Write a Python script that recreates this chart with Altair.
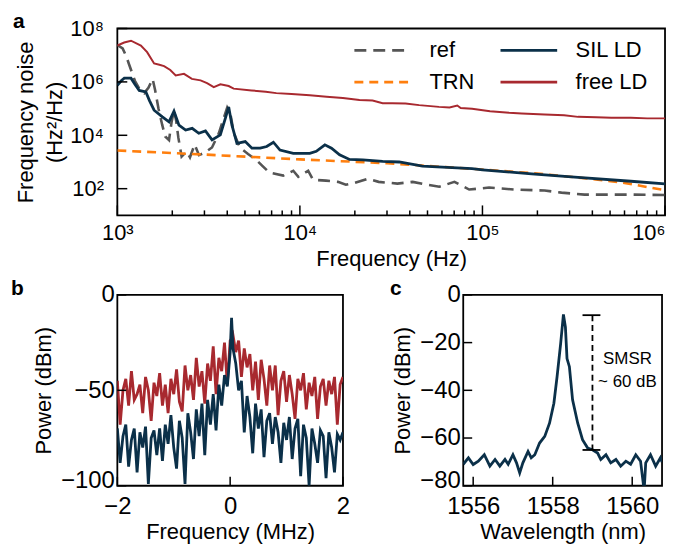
import altair as alt
import pandas as pd

FONT = "Liberation Sans"
SUP = "['\u2070','\u00b9','\u00b2','\u00b3','\u2074','\u2075','\u2076','\u2077','\u2078','\u2079']"
LOG_LABEL = "'10' + " + SUP + "[round(log(datum.value)/LN10)]"

# ---------------- panel a : frequency noise ----------------
free_f = [1000, 1090, 1188, 1346, 1456, 1590, 1700, 1803, 1950, 2088, 2318, 2560, 2857, 3100,
          3375, 3670, 4074, 4335, 5433, 6500, 7430, 9000, 11330, 14000, 17200, 21200, 25000,
          28400, 32000, 37900, 45000, 57800, 66000, 72800, 76000, 87700, 110000, 140000,
          164000, 219000, 280000, 334000, 420000, 508000, 650000, 800000, 1000000]
free_v = [2.3e7, 3.0e7, 3.5e7, 2.3e7, 1.3e7, 4.9e6, 4.4e6, 3.9e6, 2.8e6, 1.75e6, 2.0e6, 1.3e6,
          1.14e6, 9.0e5, 6.4e5, 8.1e5, 7.0e5, 5.6e5, 4.8e5, 4.3e5, 3.8e5, 3.5e5, 3.15e5, 2.8e5,
          2.5e5, 2.1e5, 2.0e5, 1.6e5, 1.6e5, 1.55e5, 1.35e5, 1.16e5, 1.1e5, 1.3e5, 1.05e5,
          9.8e4, 8.0e4, 7.0e4, 6.6e4, 6.0e4, 5.6e4, 4.9e4, 4.7e4, 4.5e4, 4.5e4, 4.3e4, 4.3e4]

sil_f = [1000, 1050, 1092, 1188, 1250, 1318, 1433, 1500, 1590, 1765, 1919, 2043, 2175, 2366,
         2570, 2794, 3039, 3302, 3666, 3905, 4074, 4244, 4520, 5020, 5460, 6060, 6580, 7160,
         7780, 9200, 11330, 12300, 13700, 14900, 16500, 18700, 22100, 28400, 35000, 46900,
         87700, 100000, 186000, 334000, 650000, 1000000]
sil_v = [7.5e5, 1.1e6, 1.38e6, 1.38e6, 8.0e5, 4.8e5, 4.2e5, 2.0e5, 8.7e4, 4.9e4, 3.2e4, 8.0e4,
         2.4e4, 1.57e4, 1.82e4, 1.19e4, 1.45e4, 6.7e3, 1.03e4, 4.3e4, 1.16e5, 2.4e4, 5.0e3,
         5.8e3, 3.3e3, 3.3e3, 3.8e3, 5.5e3, 2.8e3, 2.1e3, 2.1e3, 2.5e3, 4.4e3, 3.3e3, 1.85e3,
         1.25e3, 1.2e3, 1.05e3, 1.0e3, 7.0e2, 5.6e2, 5.1e2, 3.6e2, 2.65e2, 1.9e2, 1.5e2]

ref_f = [1000, 1069, 1120, 1160, 1248, 1330, 1403, 1480, 1560, 1610, 1680, 1760, 1830, 1919,
         1980, 2043, 2100, 2160, 2250, 2400, 2500, 2650, 2800, 3000, 3300, 3600, 3850, 4000,
         4150, 4350, 4700, 5200, 5770, 6310, 6810, 8100, 9200, 9800, 11100, 11800, 13900,
         16150, 17850, 20000, 23500, 27000, 34200, 41500, 49900, 58000, 70200, 84600, 108700,
         149000, 219000, 271000, 362000, 636000, 1000000]
ref_v = [2.4e7, 1.8e7, 9.0e6, 4.5e6, 1.1e6, 5.0e5, 3.8e5, 6.0e5, 1.3e6, 5.0e5, 1.0e5, 2.5e4,
         9.0e3, 6.6e3, 3.0e4, 8.7e4, 3.5e4, 8.0e3, 1.6e3, 2.5e3, 1.5e3, 4.5e3, 1.8e3, 2.2e3,
         3.5e3, 1.2e4, 5.0e4, 1.1e5, 7.0e4, 1.2e4, 3.4e3, 2.0e3, 1.2e3, 6.6e2, 4.0e2, 3.1e2,
         4.7e2, 2.8e2, 4.7e2, 2.15e2, 2.0e2, 1.8e2, 1.4e2, 1.65e2, 2.35e2, 1.8e2, 1.55e2,
         1.8e2, 1.4e2, 1.18e2, 1.8e2, 93, 110, 93, 85, 71, 60, 60, 58]

trn_f = [1000, 3000, 10000, 30000, 100000, 200000, 400000, 600000, 800000, 1000000]
trn_v = [2.7e3, 1.9e3, 1.25e3, 9.0e2, 5.2e2, 3.7e2, 2.3e2, 1.65e2, 1.15e2, 88]

dashed_names = ["ref", "TRN"]
dashed_colors = ["#555555", "#ff7f0e"]
dashed_patterns = [[12, 7], [9, 6]]
solid_names = ["SIL LD", "free LD"]
solid_colors = ["#0b3049", "#a8292f"]

a_xmajor = [1e3, 1e4, 1e5, 1e6]
a_xminor = [2e3, 3e3, 4e3, 5e3, 6e3, 7e3, 8e3, 9e3, 2e4, 3e4, 4e4, 5e4, 6e4, 7e4, 8e4, 9e4,
            2e5, 3e5, 4e5, 5e5, 6e5, 7e5, 8e5, 9e5]
a_ymajor = [1e2, 1e4, 1e6, 1e8]

# ---------------- panel b : beat note ----------------
b_freq = [-2.0, -1.95, -1.9, -1.85, -1.8, -1.75, -1.7, -1.65, -1.6, -1.55, -1.5, -1.45, -1.4,
          -1.35, -1.3, -1.25, -1.2, -1.15, -1.1, -1.05, -1.0, -0.95, -0.9, -0.85, -0.8, -0.75,
          -0.7, -0.65, -0.6, -0.55, -0.5, -0.45, -0.4, -0.35, -0.3, -0.25, -0.2, -0.15, -0.1,
          -0.05, 0.0, 0.025, 0.05, 0.1, 0.15, 0.2, 0.25, 0.3, 0.35, 0.4, 0.45, 0.5, 0.55, 0.6,
          0.65, 0.7, 0.75, 0.8, 0.85, 0.9, 0.95, 1.0, 1.05, 1.1, 1.15, 1.2, 1.25, 1.3, 1.35,
          1.4, 1.45, 1.5, 1.55, 1.6, 1.65, 1.7, 1.75, 1.8, 1.85, 1.9, 1.95, 2.0]
b_free = [-45, -68, -50, -44, -58, -40, -55, -52, -47, -62, -43, -50, -66, -46, -53, -41, -58,
          -47, -62, -44, -52, -39, -56, -61, -37, -50, -42, -55, -33, -48, -40, -57, -36, -45,
          -27, -52, -33, -40, -25, -47, -24, -23, -21, -30, -24, -43, -28, -38, -31, -50, -35,
          -55, -34, -44, -58, -37, -50, -37, -63, -45, -40, -56, -42, -52, -65, -44, -50, -41,
          -60, -46, -53, -43, -65, -48, -44, -58, -45, -52, -43, -68, -47, -43]
b_sil = [-70, -88, -74, -68, -90, -76, -70, -93, -72, -80, -69, -99, -75, -71, -84, -70, -87,
         -68, -78, -63, -80, -91, -66, -75, -99, -62, -72, -86, -60, -74, -57, -84, -55, -68,
         -52, -71, -47, -58, -42, -48, -30, -12, -28, -36, -50, -45, -72, -53, -64, -83, -57,
         -70, -60, -85, -66, -62, -78, -64, -72, -88, -67, -76, -64, -86, -70, -65, -95, -68,
         -75, -100, -70, -78, -88, -71, -74, -96, -72, -80, -93, -73, -76, -72]
b_xticks = [-2, 0, 2]
b_yticks = [-100, -50, 0]

# ---------------- panel c : optical spectrum ----------------
c_wl = [1555.75, 1555.88, 1556.0, 1556.13, 1556.28, 1556.42, 1556.55, 1556.67, 1556.8, 1556.88,
        1557.0, 1557.09, 1557.17, 1557.25, 1557.38, 1557.46, 1557.55, 1557.67, 1557.8, 1557.92,
        1558.03, 1558.11, 1558.2, 1558.27, 1558.32, 1558.36, 1558.42, 1558.5, 1558.63, 1558.75,
        1558.88, 1559.0, 1559.13, 1559.21, 1559.34, 1559.46, 1559.59, 1559.71, 1559.84, 1559.96,
        1560.09, 1560.21, 1560.3, 1560.34, 1560.46, 1560.59, 1560.71, 1560.75]
c_pw = [-71, -68.3, -71.1, -69.7, -67, -71.8, -69, -71.8, -69, -71, -67, -70.4, -74.6, -70.4,
        -65.6, -68.3, -67, -62.1, -59.3, -53.8, -45.4, -34.3, -20.4, -8.2, -13.5, -26.7, -30.1,
        -44, -53.8, -60.7, -64.2, -64.9, -66.3, -69, -67, -70.4, -69, -71.8, -69.7, -71, -67,
        -69.7, -82, -70.4, -67, -71.8, -68.3, -70]
c_xticks = [1556, 1558, 1560]
c_yticks = [-80, -60, -40, -20, 0]
smsr_x = [1559.0]
smsr_top = [-8.5]
smsr_bottom = [-65.0]
smsr_cap_x1 = [1558.75, 1558.75]
smsr_cap_x2 = [1559.2, 1559.2]
smsr_cap_y = [-8.5, -65.0]
smsr_text = ["SMSR", "~ 60 dB"]
smsr_text_x = [1559.88, 1559.88]
smsr_text_y = [-26.7, -36.4]

NAVY = solid_colors[0]
RED = solid_colors[1]
TICK = 9
LABEL_A = 22
LABEL_BC = 24


def x_ticks(vals, scale, axis, h, length=TICK):
    return alt.Chart(pd.DataFrame({"t": vals})).mark_rule(color="black", strokeWidth=1.5).encode(
        x=alt.X("t:Q", scale=scale, axis=axis), y=alt.value(h), y2=alt.value(h - length))


def y_ticks(vals, scale, axis, length=TICK):
    return alt.Chart(pd.DataFrame({"t": vals})).mark_rule(color="black", strokeWidth=1.5).encode(
        y=alt.Y("t:Q", scale=scale, axis=axis), x=alt.value(0), x2=alt.value(length))


def panel_title(letter, dx, offset):
    return alt.TitleParams(letter, anchor="start", frame="bounds", fontSize=21,
                           fontWeight="bold", dx=dx, offset=offset, font=FONT, color="black")


def line_legend(x, y, dash=None):
    kw = dict(title=None, orient="none", legendX=x, legendY=y, direction="vertical",
              symbolType="M-5,0H5", symbolSize=130, symbolStrokeWidth=2.7,
              labelFontSize=22, labelFont=FONT, labelColor="black", labelOffset=36,
              rowPadding=10, padding=0)
    if dash is not None:
        kw["symbolDash"] = dash
    return alt.Legend(**kw)


# ----- build panel a -----
WA, HA = 551, 188
xa = alt.Scale(type="log", domain=[1e3, 1e6])
ya = alt.Scale(type="log", domain=[1e1, 1e8])
xa_axis = alt.Axis(values=a_xmajor, labelExpr=LOG_LABEL, title="Frequency (Hz)",
                   labelPadding=7, titlePadding=5, labelFontSize=LABEL_A,
                   labelAlign={"condition": {"test": "datum.value >= 1000000", "value": "right"},
                               "value": "center"})
ya_axis = alt.Axis(values=a_ymajor, labelExpr=LOG_LABEL, title=["Frequency noise", "(Hz\u00b2/Hz)"],
                   titleLineHeight=29, labelPadding=14, titlePadding=3, labelFontSize=LABEL_A)


def frame(names_data):
    rows = []
    for name, fs, vs in names_data:
        for f, v in zip(fs, vs):
            rows.append({"series": name, "f": f, "v": v})
    return pd.DataFrame(rows)


dashed_layer = alt.Chart(frame([("ref", ref_f, ref_v), ("TRN", trn_f, trn_v)])).mark_line(
    clip=True, strokeWidth=2.6).encode(
    x=alt.X("f:Q", scale=xa, axis=xa_axis),
    y=alt.Y("v:Q", scale=ya, axis=ya_axis),
    stroke=alt.Stroke("series:N", scale=alt.Scale(domain=dashed_names, range=dashed_colors),
                      legend=line_legend(256, 11, [10, 6])),
    strokeDash=alt.StrokeDash("series:N", scale=alt.Scale(domain=dashed_names, range=dashed_patterns),
                              legend=None),
)
solid_color = alt.Color("series:N", scale=alt.Scale(domain=solid_names, range=solid_colors),
                        legend=line_legend(403, 11))
sil_layer = alt.Chart(frame([("SIL LD", sil_f, sil_v)])).mark_line(clip=True, strokeWidth=2.8).encode(
    x=alt.X("f:Q", scale=xa, axis=xa_axis), y=alt.Y("v:Q", scale=ya, axis=ya_axis), color=solid_color)
free_layer = alt.Chart(frame([("free LD", free_f, free_v)])).mark_line(clip=True, strokeWidth=2.0).encode(
    x=alt.X("f:Q", scale=xa, axis=xa_axis), y=alt.Y("v:Q", scale=ya, axis=ya_axis), color=solid_color)

panel_a = alt.layer(
    dashed_layer, sil_layer, free_layer,
    x_ticks(a_xmajor, xa, xa_axis, HA, 10),
    x_ticks(a_xminor, xa, xa_axis, HA, 5),
    y_ticks(a_ymajor, ya, ya_axis, 10),
).properties(width=WA, height=HA, title=panel_title("a", -2, -14))

# ----- build panel b -----
dfb = pd.DataFrame({"x": b_freq * 2, "p": b_free + b_sil,
                    "series": ["free LD"] * len(b_free) + ["SIL LD"] * len(b_sil)})
WB, HB = 227, 192
xb = alt.Scale(domain=[-2, 2])
yb = alt.Scale(domain=[-100, 0])
xb_axis = alt.Axis(values=b_xticks, title="Frequency (MHz)", labelPadding=9, titlePadding=3,
                   labelFontSize=LABEL_BC)
yb_axis = alt.Axis(values=b_yticks, title="Power (dBm)", labelPadding=3, titlePadding=5,
                   labelFontSize=LABEL_BC,
                   labelOffset={"condition": {"test": "datum.value <= -100", "value": -5},
                                "value": 0})
lines_b = alt.Chart(dfb).mark_line(clip=True, strokeWidth=2.8).encode(
    x=alt.X("x:Q", scale=xb, axis=xb_axis),
    y=alt.Y("p:Q", scale=yb, axis=yb_axis),
    color=alt.Color("series:N", scale=alt.Scale(domain=["free LD", "SIL LD"], range=[RED, NAVY]),
                    legend=None),
)
panel_b = alt.layer(
    lines_b, x_ticks(b_xticks, xb, xb_axis, HB), y_ticks(b_yticks, yb, yb_axis)
).properties(width=WB, height=HB, title=panel_title("b", -22, -16))

# ----- build panel c -----
dfc = pd.DataFrame({"wl": c_wl, "p": c_pw})
WC, HC = 200, 192
xc = alt.Scale(domain=[1555.75, 1560.75])
yc = alt.Scale(domain=[-80, 0])
xc_axis = alt.Axis(values=c_xticks, format="d", title="Wavelength (nm)", labelPadding=9,
                   titlePadding=3, labelFontSize=LABEL_BC)
yc_axis = alt.Axis(values=c_yticks, title="Power (dBm)", labelPadding=3, titlePadding=5,
                   labelFontSize=LABEL_BC,
                   labelOffset={"condition": {"test": "datum.value <= -80", "value": -5},
                                "value": 0})
line_c = alt.Chart(dfc).mark_line(clip=True, strokeWidth=2.8, color=NAVY).encode(
    x=alt.X("wl:Q", scale=xc, axis=xc_axis),
    y=alt.Y("p:Q", scale=yc, axis=yc_axis),
)
smsr_line = alt.Chart(pd.DataFrame({"x": smsr_x, "y": smsr_top, "y2": smsr_bottom})).mark_rule(
    color="black", strokeWidth=1.8, strokeDash=[6, 4]).encode(
    x=alt.X("x:Q", scale=xc, axis=xc_axis), y=alt.Y("y:Q", scale=yc, axis=yc_axis), y2="y2:Q")
smsr_caps = alt.Chart(pd.DataFrame({"x": smsr_cap_x1, "x2": smsr_cap_x2, "y": smsr_cap_y})).mark_rule(
    color="black", strokeWidth=1.8).encode(
    x=alt.X("x:Q", scale=xc, axis=xc_axis), x2="x2:Q", y=alt.Y("y:Q", scale=yc, axis=yc_axis))
smsr_lab = alt.Chart(pd.DataFrame({"x": smsr_text_x, "y": smsr_text_y, "t": smsr_text})).mark_text(
    fontSize=17, font=FONT, color="black", align="center", baseline="middle").encode(
    x=alt.X("x:Q", scale=xc, axis=xc_axis), y=alt.Y("y:Q", scale=yc, axis=yc_axis), text="t:N")
panel_c = alt.layer(
    line_c, smsr_line, smsr_caps, smsr_lab,
    x_ticks(c_xticks, xc, xc_axis, HC), y_ticks(c_yticks, yc, yc_axis)
).properties(width=WC, height=HC, title=panel_title("c", -2, -16))

chart = alt.vconcat(
    panel_a,
    alt.hconcat(panel_b, panel_c, spacing=121, bounds="flush"),
    spacing=80, bounds="flush",
).properties(
    padding={"left": 2, "top": 0, "right": 0, "bottom": 2}
).configure(font=FONT).configure_view(
    stroke="black", strokeWidth=1.8
).configure_axis(
    labelFontSize=22, titleFontSize=22, titleFontWeight="normal", labelColor="black",
    titleColor="black", labelFont=FONT, titleFont=FONT, grid=False, ticks=False, domain=False,
    labelFlush=False, labelOverlap=False
)

chart.save("out.html", embed_options={"renderer": "svg", "actions": False})
